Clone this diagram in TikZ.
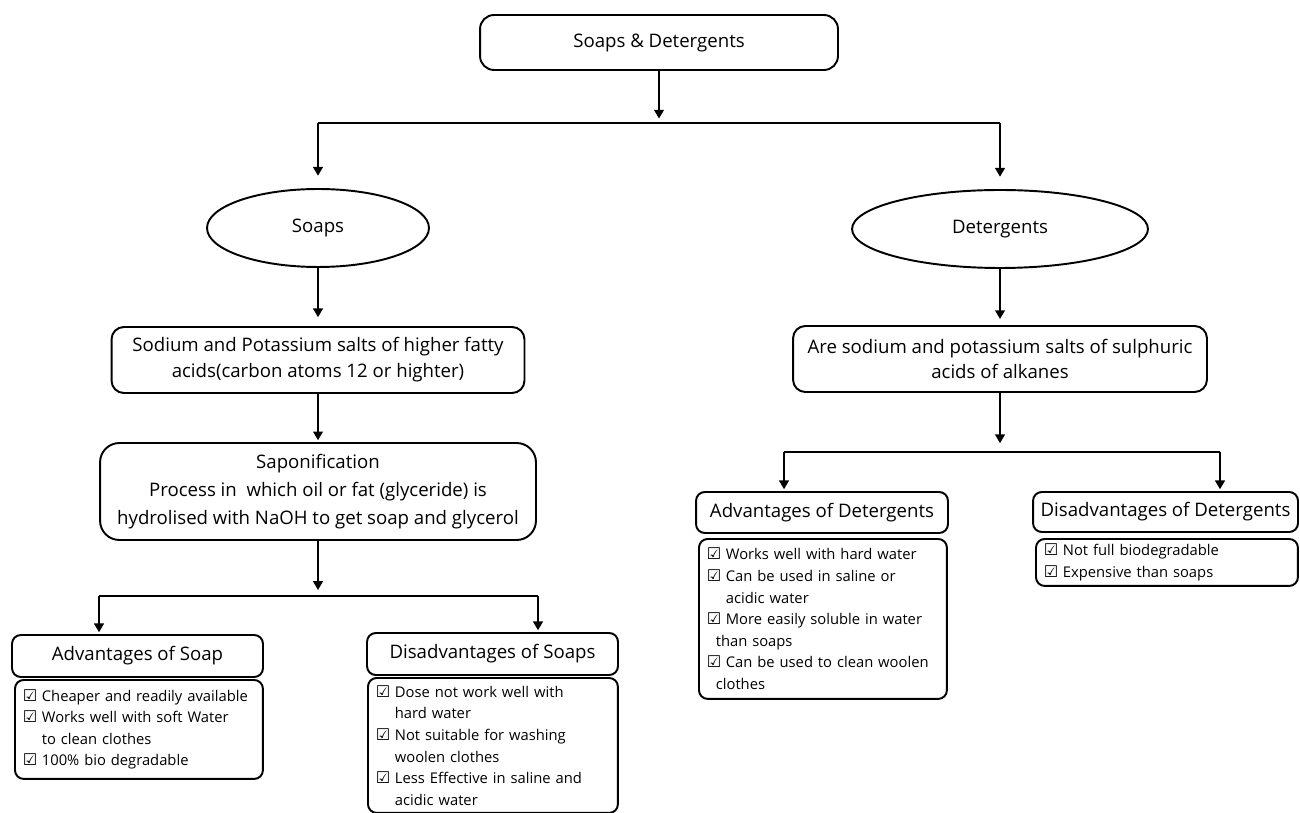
\documentclass[tikz,border=0pt]{standalone}
\usepackage{fontspec}
\setmainfont{Open Sans}
\newfontfamily\symfont{DejaVu Sans}
\usetikzlibrary{shapes.geometric,arrows.meta}

\newcommand\chk{{\symfont\fontsize{9.2}{9.2}\selectfont ☑}\hspace{0.3em}}
\newcommand\ind{\phantom{\chk}}
\newcommand\mainsize{\fontsize{10.6}{14.7}\selectfont}
\newcommand\listsize{\fontsize{8.4}{12.3}\selectfont}

\tikzset{
  box/.style={draw, line width=1.1pt, rounded corners=7pt, align=center, inner sep=0pt, font=\mainsize},
  oval/.style={draw, ellipse, line width=1.1pt, inner sep=0pt, font=\mainsize},
  head/.style={box, rounded corners=5pt},
  list/.style={draw, line width=1.1pt, rounded corners=5pt, align=left, inner xsep=0.16cm, inner ysep=0pt, font=\listsize, anchor=north west},
  arr/.style={-{Triangle[length=5pt,width=5.5pt]}, line width=1.1pt},
}

\begin{document}
\begin{tikzpicture}[x=0.02cm, y=-0.02cm]
  \useasboundingbox (0,0) rectangle (1300,813);
  % main chain
  \node[box, rounded corners=8pt, minimum width=7.16cm, minimum height=1.1cm] (top) at (659,42.5) {Soaps \& Detergents};
  \node[oval, minimum width=4.44cm, minimum height=1.56cm] (soaps) at (318,228) {Soaps};
  \node[oval, minimum width=5.92cm, minimum height=1.56cm] (det) at (1000,229) {Detergents};
  \node[box, minimum width=8.26cm, minimum height=1.32cm] (sodium) at (318,360)
    {Sodium and Potassium salts of higher fatty\\acids(carbon atoms 12 or highter)};
  \node[box, minimum width=8.28cm, minimum height=1.32cm] (salts) at (1000,359)
    {Are sodium and potassium salts of sulphuric\\acids of alkanes};
  \node[box, rounded corners=11pt, minimum width=8.72cm, minimum height=1.94cm,
        font=\fontsize{10.6}{16}\selectfont] (sapon) at (318,491.5)
    {Saponification\\Process in\ \ which oil or fat (glyceride) is\\hydrolised with NaOH to get soap and glycerol};

  % headers
  \node[head, minimum width=5.02cm, minimum height=0.84cm] (advsoap) at (137.5,656) {Advantages of Soap};
  \node[head, minimum width=5.02cm, minimum height=0.84cm] (dissoap) at (492.5,654) {Disadvantages of Soaps};
  \node[head, minimum width=5.04cm, minimum height=0.82cm] (advdet) at (822,512.5) {Advantages of Detergents};
  \node[head, minimum width=5.3cm, minimum height=0.8cm] (disdet) at (1165.5,512) {Disadvantages of Detergents};

  % lists
  \node[list, text width=4.64cm, minimum height=1.98cm] (advsoaplist) at (14,679)
    {\mbox{\chk Cheaper and readily available}\\
     \chk Works well with soft Water\\
     \ind to clean clothes\\
     \chk 100\% bio degradable};
  \node[list, text width=4.68cm, minimum height=2.7cm] (dissoaplist) at (367,677)
    {\chk Dose not work well with\\
     \ind hard water\\
     \chk Not suitable for washing\\
     \ind woolen clothes\\
     \chk Less Effective in saline and\\
     \ind acidic water};
  \node[list, text width=4.64cm, minimum height=3.2cm] (advdetlist) at (698,538)
    {\chk Works well with hard water\\
     \chk Can be used in saline or\\
     \ind acidic water\\
     \chk More easily soluble in water\\
     \hspace*{0.6em}than soaps\\
     \chk Can be used to clean woolen\\
     \hspace*{0.6em}clothes};
  \node[list, text width=4.92cm, minimum height=0.94cm] (disdetlist) at (1035,538)
    {\chk Not full biodegradable\\
     \chk Expensive than soaps};

  % junctions
  \coordinate (j1) at (659,123);
  \coordinate (j2) at (318,596);
  \coordinate (j2l) at (99,596);
  \coordinate (j2r) at (538,596);
  \coordinate (j3) at (1000,452);
  \coordinate (j3l) at (784,452);
  \coordinate (j3r) at (1220,452);

  % connectors
  \draw[arr, shorten >=2.5pt] (top) -- (j1);
  \draw[line width=1.1pt] (j1 -| soaps) -- (j1 -| det);
  \draw[arr, shorten >=7pt] (j1 -| soaps) -- (soaps);
  \draw[arr, shorten >=7pt] (j1 -| det) -- (det);
  \draw[arr, shorten >=5pt] (soaps) -- (sodium);
  \draw[arr, shorten >=1pt] (sodium) -- (sapon);
  \draw[arr, shorten >=3.4pt] (sapon) -- (j2);
  \draw[line width=1.1pt] (j2l) -- (j2r);
  \draw[arr, shorten >=1pt] (j2l) -- (j2l |- advsoap.north);
  \draw[arr, shorten >=1pt] (j2r) -- (j2r |- dissoap.north);
  \draw[arr, shorten >=3.4pt] (det) -- (salts);
  \draw[arr, shorten >=5pt] (salts) -- (j3);
  \draw[line width=1.1pt] (j3l) -- (j3r);
  \draw[arr, shorten >=1pt] (j3l) -- (j3l |- advdet.north);
  \draw[arr, shorten >=1pt] (j3r) -- (j3r |- disdet.north);
\end{tikzpicture}
\end{document}
